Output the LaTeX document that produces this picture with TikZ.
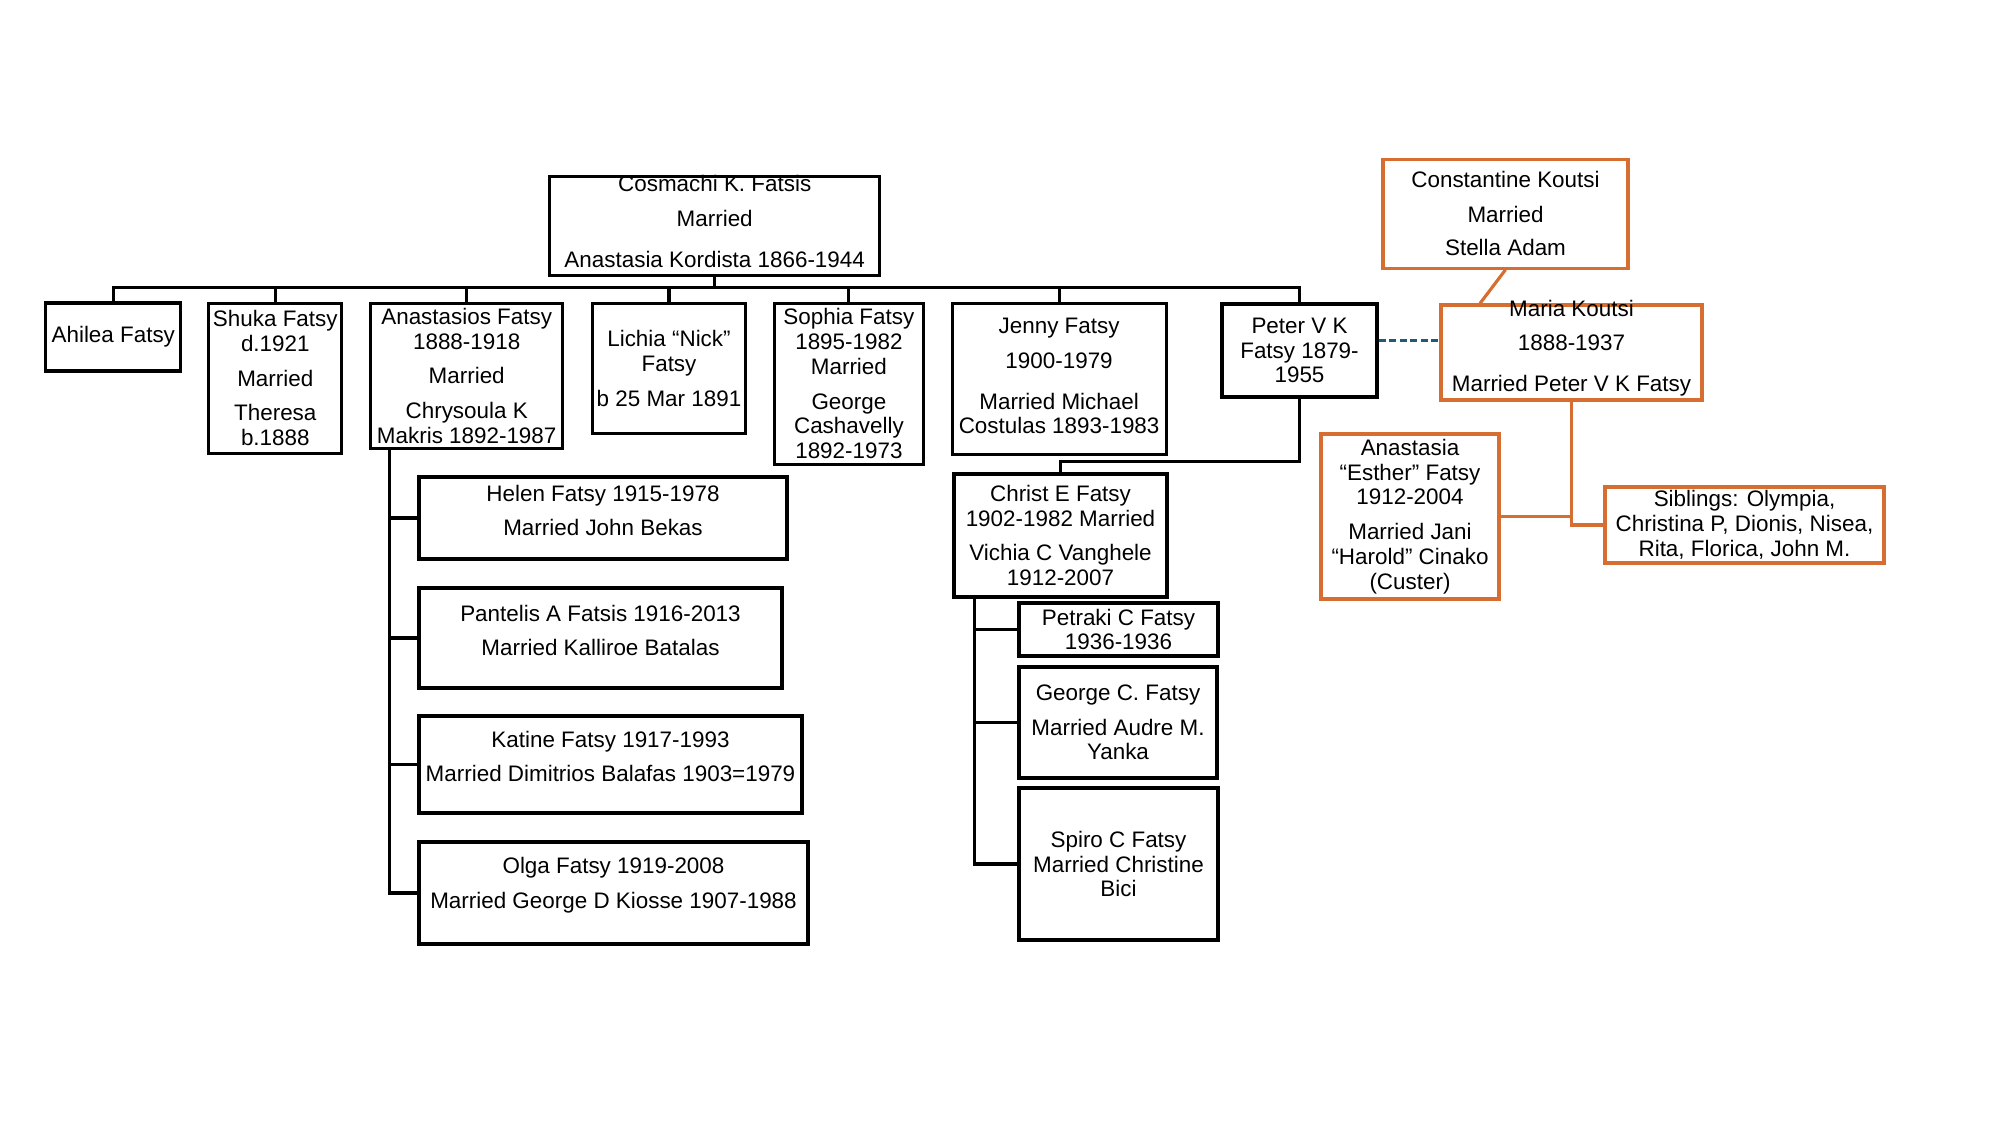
\documentclass[tikz,border=0pt]{standalone}
\usepackage{fontspec}
\setmainfont{Liberation Sans}
\usepackage{tikz}
\usetikzlibrary{calc}
\definecolor{koutsiorange}{HTML}{D66E32}
\definecolor{marriageblue}{HTML}{1F5A78}
\tikzset{
	famtext/.style={align=center, inner sep=0pt, font=\fontsize{6.38}{7.07}\selectfont},
	person/.style={draw, line width=0.9pt, inner sep=0pt},
	koutsi/.style={person, draw=koutsiorange},
	famline/.style={line width=0.9pt},
	koutsiline/.style={line width=0.9pt, draw=koutsiorange},
	marriage/.style={line width=0.9pt, draw=marriageblue, dash pattern=on 0.07cm off 0.035cm}
}
\def\famnode[#1](#2)(#3)(#4:#5:#6)#7{\node[#1, minimum width=#4cm, minimum height=#5cm] (#2) at (#3) {}; \node[famtext] at ([yshift=#6cm]#2.center) {#7};}

\begin{document}
\begin{tikzpicture}
			%%%%% START %%%%%
			\useasboundingbox (0, 0) rectangle (20, 11.25);
			
			\famnode[person](cosmachi)(7.147, 8.994)(3.30:0.99:0.04){Cosmachi K. Fatsis\\[2.8pt]Married\\[4.5pt]Anastasia Kordista 1866-1944}
			
			\famnode[person](ahilea)(1.133, 7.88)(1.35:0.68:0){Ahilea Fatsy}
			\famnode[person](shuka)(2.753, 7.468)(1.33:1.50:0){Shuka Fatsy\\d.1921\\[2.8pt]Married\\[2.8pt]Theresa\\b.1888}
			\famnode[person](anastasios)(4.667, 7.493)(1.92:1.45:0){Anastasios Fatsy\\1888-1918\\[2.8pt]Married\\[2.8pt]Chrysoula K\\Makris 1892-1987}
			\famnode[person](lichia)(6.69, 7.567)(1.53:1.30:0){Lichia “Nick”\\Fatsy\\[2.8pt]b 25 Mar 1891}
			\famnode[person](sophia)(8.489, 7.413)(1.49:1.61:0){Sophia Fatsy\\1895-1982\\Married\\[2.8pt]George\\Cashavelly\\1892-1973}
			\famnode[person](jenny)(10.591, 7.463)(2.14:1.51:0.025){Jenny Fatsy\\[2.8pt]1900-1979\\[4.5pt]Married Michael\\Costulas 1893-1983}
			\famnode[person](peter)(12.995, 7.745)(1.55:0.93:0){Peter V K\\Fatsy 1879-\\1955}
			
			\famnode[person](helen)(6.03, 6.07)(3.68:0.82:0.075){Helen Fatsy 1915-1978\\[2.8pt]Married John Bekas}
			\famnode[person](pantelis)(6.005, 4.87)(3.63:1.00:0.075){Pantelis A Fatsis 1916-2013\\[2.8pt]Married Kalliroe Batalas}
			\famnode[person](katine)(6.105, 3.605)(3.83:0.97:0.08){Katine Fatsy 1917-1993\\[2.8pt]Married Dimitrios Balafas 1903=1979}
			\famnode[person](olga)(6.135, 2.32)(3.89:1.02:0.08){Olga Fatsy 1919-2008\\[2.8pt]Married George D Kiosse 1907-1988}
			
			\famnode[person](christ)(10.605, 5.895)(2.13:1.23:0){Christ E Fatsy\\1902-1982 Married\\[2.8pt]Vichia C Vanghele\\1912-2007}
			\famnode[person](petraki)(11.185, 4.955)(1.99:0.53:0){Petraki C Fatsy\\1936-1936}
			\famnode[person](george)(11.18, 4.025)(1.98:1.11:0){George C. Fatsy\\[2.8pt]Married Audre M.\\Yanka}
			\famnode[person](spiro)(11.185, 2.61)(1.99:1.52:0){Spiro C Fatsy\\Married Christine\\Bici}
			
			\famnode[koutsi](constantine)(15.055, 9.113)(2.45:1.09:0){Constantine Koutsi\\[2.8pt]Married\\[2.5pt]Stella Adam}
			\famnode[koutsi](maria)(15.715, 7.725)(2.61:0.95:0.045){Maria Koutsi\\[2.8pt]1888-1937\\[4.5pt]Married Peter V K Fatsy}
			\famnode[koutsi](esther)(14.10, 6.085)(1.78:1.65:0){Anastasia\\“Esther” Fatsy\\1912-2004\\[2.8pt]Married Jani\\“Harold” Cinako\\(Custer)}
			\famnode[koutsi](siblings)(17.445, 6.00)(2.79:0.76:0){Siblings: Olympia,\\Christina P, Dionis, Nisea,\\Rita, Florica, John M.}
			
			\coordinate (bus) at ($(ahilea.north)+(0, 0.135)$);
			\draw[famline] (cosmachi.south) -- (cosmachi.south |- bus);
			\draw[famline] (ahilea.north) -- (bus) -| (peter.north);
			\draw[famline] (shuka.north) -- (shuka.north |- bus);
			\draw[famline] (anastasios.north) -- (anastasios.north |- bus);
			\draw[famline] (lichia.north) -- (lichia.north |- bus);
			\draw[famline] (sophia.north) -- (sophia.north |- bus);
			\draw[famline] (jenny.north) -- (jenny.north |- bus);
			
			\coordinate (anastem) at ($(anastasios.south west)+(0.2, 0)$);
			\draw[famline] (anastem) |- (olga.west);
			\draw[famline] (helen.west) -- (helen.west -| anastem);
			\draw[famline] (pantelis.west) -- (pantelis.west -| anastem);
			\draw[famline] (katine.west) -- (katine.west -| anastem);
			
			\draw[famline] (peter.south) -- ++(0, -0.63) -| (christ.north);
			\coordinate (christem) at ($(christ.south west)+(0.22, 0)$);
			\draw[famline] (christem) |- (spiro.west);
			\draw[famline] (petraki.west) -- (petraki.west -| christem);
			\draw[famline] (george.west) -- (george.west -| christem);
			
			\draw[marriage] ([yshift=0.1cm]peter.east) -- ([yshift=0.1cm]peter.east -| maria.west);
			\draw[koutsiline] (constantine.south) -- ([xshift=-0.915cm]maria.north);
			\draw[koutsiline] (maria.south) |- (siblings.west);
			\draw[koutsiline] (esther.east) -- (esther.east -| maria.south);
			
			%%%%% END %%%%%
		\end{tikzpicture}
\end{document}
